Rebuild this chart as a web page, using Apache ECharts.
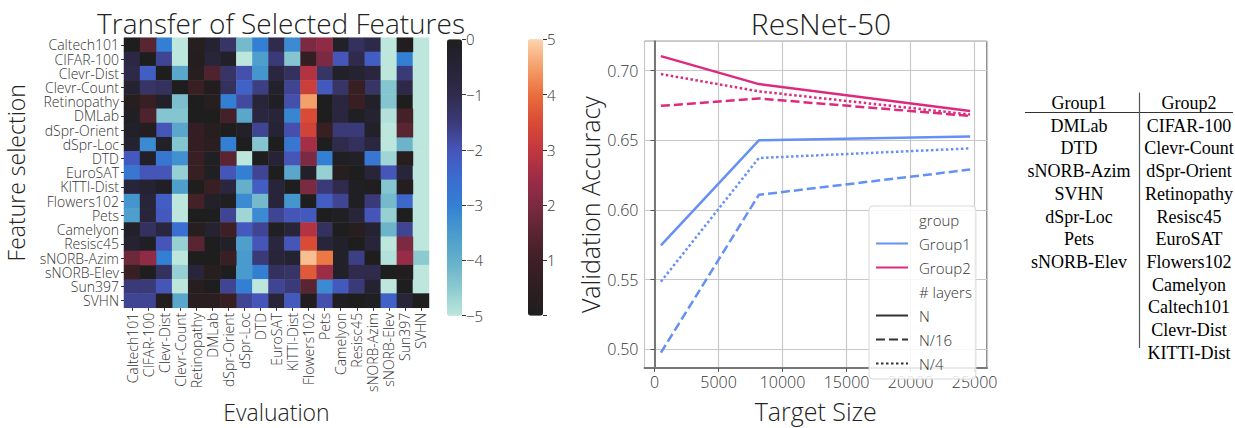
<!DOCTYPE html>
<html><head><meta charset="utf-8">
<script src="https://cdn.jsdelivr.net/npm/echarts@6/dist/echarts.min.js"></script>
<style>html,body{margin:0;padding:0;background:#fff}#c{width:1235px;height:428px}</style>
</head><body><div id="c"></div>
<script>
// ---------------- DATA ----------------
const datasets = ['Caltech101','CIFAR-100','Clevr-Dist','Clevr-Count','Retinopathy','DMLab','dSpr-Orient','dSpr-Loc','DTD','EuroSAT','KITTI-Dist','Flowers102','Pets','Camelyon','Resisc45','sNORB-Azim','sNORB-Elev','Sun397','SVHN'];
const rowCaltech101  = [0, 1.5, -3, -5, 0.3, -0.4, -1.3, -4.2, -3, -1, -3.2, 2, 2.3, -0.2, -1.2, -0.9, -5, 0.1, -5];
const rowCIFAR100    = [-0.8, 0, -1.7, -5, 0.2, -0.6, -0.2, -5, -3.6, -1.5, -4.4, 0.7, 2, -2, -1, -2.2, -5, -3, -5];
const rowClevrDist   = [-0.9, -2.2, 0, -3.8, 0.3, 1.3, -1.3, -1.9, -3.4, -0.7, -1.2, 2.8, -1.3, -0.2, -0.4, -0.7, -5, -1.5, -5];
const rowClevrCount  = [-0.4, -1.3, -1.2, 0, 0.8, 0.1, -1.2, -2.3, -1.6, -0.3, -1.7, 3.2, -2.1, -1.3, 0.8, -1.3, -4.4, -0.9, -5];
const rowRetinopathy = [0.3, 0.8, -0.2, -4.3, 0, 0.3, -3, -1.8, -0.6, -0.1, -1.9, 4.5, 0, -0.7, 0.8, -0.2, -4.4, 0, -5];
const rowDMLab       = [-0.1, 1.3, -4.4, -4.4, 0, 0, 1.1, -3.8, -0.7, -0.6, -3.1, 3.5, 0, -0.7, -0.1, -0.4, -4.9, 1.1, -5];
const rowDSprOrient  = [-0.2, 0.2, -2, -3.8, 0.7, 0.3, 0, -0.2, -1.7, -0.5, -1.9, 3.3, 0.8, -1.5, -1.5, -0.2, -5, 1.5, -5];
const rowDSprLoc     = [-0.4, -3.2, -0.2, -4.4, 0.7, 0.4, -3, 0, -4.4, 0, -2.8, 2.6, 0, -1, -1.2, -0.7, -5, -4.1, -5];
const rowDTD         = [-2.1, -0.2, -2.8, -3.3, 0.8, -0.1, 1.5, -5, 0, -0.5, -2, 2, -3, -0.1, -0.2, -2.8, -4.7, 0.3, -5];
const rowEuroSAT     = [-2.8, -2, -2, -4.6, 0.8, -0.1, -2, -3, -1.7, 0, -3.8, -0.2, -4.6, 0.3, 0, -0.6, -2, -0.6, -5];
const rowKITTIDist   = [-0.6, -0.4, -0.1, -3.6, 0, 0.8, -0.7, -4, -2.2, -0.6, 0, 2, -1.5, -1, -0.1, 0.1, -4.4, 0.2, -5];
const rowFlowers102  = [-3.4, -0.6, -2.2, -5, 1.1, -0.2, -0.05, -3.2, -4.2, -0.6, -3.4, 0, -2.2, -1.7, -0.1, -1.5, -4.2, -2.4, -5];
const rowPets        = [-3.6, -0.6, -2.1, -5, 0, 0, -1.7, -4.7, -3.2, -1.7, -2, -2.1, 0, -0.1, -0.6, -2, -4.6, 0, -5];
const rowCamelyon    = [-0.2, -1.2, -0.7, -2.6, 0.3, -0.4, 1, -2.1, -1.7, -0.1, -0.6, 2.8, -1.2, 0, 0.3, -0.4, -4.1, -1.7, -5];
const rowResisc45    = [-0.4, -0.1, -2, -4.6, 1.5, 0, -0.2, -3.6, -2, -0.7, -2, 3.5, -0.6, -0.2, 0, -0.6, -5, 2, -5];
const rowSNORBAzim   = [1.8, 2.3, -3, -5, 0, 0, 0.8, -3.5, -1.5, -0.6, -0.4, 4.8, 4.1, -0.2, -1.6, 0, -4.9, 2.4, -4.5];
const rowSNORBElev   = [0.8, 0, -1.2, -4.6, -0.6, 0.3, 0, -3.5, -3, -1.2, -1.3, 3.7, 2.5, -0.2, -1, -1, 0, 0.1, -5];
const rowSun397      = [-1.5, -1.5, -2, -5, 0.3, 0, -1.7, -3, -5, -1.7, -1.5, 1.5, -3.2, -2.1, -1.5, -0.4, -5, 0, -5];
const rowSVHN        = [-1.7, -1.7, 0.2, -3.8, 0.4, 0.4, 0.8, -1.7, -2, -0.6, -2.1, 0.1, -1.9, -0.1, 0, -0.05, -2.3, -0.6, 0];
const heatRows = [rowCaltech101,rowCIFAR100,rowClevrDist,rowClevrCount,rowRetinopathy,rowDMLab,rowDSprOrient,rowDSprLoc,rowDTD,rowEuroSAT,rowKITTIDist,rowFlowers102,rowPets,rowCamelyon,rowResisc45,rowSNORBAzim,rowSNORBElev,rowSun397,rowSVHN];

const negColors = ['#bde6dc','#8ccad0','#65afca','#4a9bcd','#337fd3','#3c6bd0','#4655b8','#3b3a78','#302b4c','#262336','#1f1e1f'];
const posColors = ['#1f1e1f','#2d1e21','#3e1f26','#5a2533','#7b2a41','#9d2c47','#c2373f','#d94b35','#ea6e3d','#f4a06b','#fdd3ad'];

const targetSizes = [500, 8150, 24650];
const g1_N   = [0.5747, 0.6500, 0.6528];
const g1_N16 = [0.4977, 0.6109, 0.6290];
const g1_N4  = [0.5486, 0.6373, 0.6442];
const g2_N   = [0.7104, 0.6903, 0.6710];
const g2_N16 = [0.6747, 0.6800, 0.6675];
const g2_N4  = [0.6975, 0.6851, 0.6685];

const group1List = ['DMLab','DTD','sNORB-Azim','SVHN','dSpr-Loc','Pets','sNORB-Elev'];
const group2List = ['CIFAR-100','Clevr-Count','dSpr-Orient','Retinopathy','Resisc45','EuroSAT','Flowers102','Camelyon','Caltech101','Clevr-Dist','KITTI-Dist'];

// ---------------- BUILD ----------------
const FONT = '"Open Sans", "DejaVu Sans", sans-serif';
const negData = [], posData = [];
heatRows.forEach((row, r) => row.forEach((v, c) => {
  if (v > 0) posData.push([c, r, v]); else negData.push([c, r, v]);
}));
const pair = ys => targetSizes.map((x, i) => [x, ys[i]]);
const BLUE = '#6590f5', PINK = '#dc2a7f';
const LW = 2.5;
function lineSeries(name, ys, color, type) {
  return { type: 'line', name, xAxisIndex: 3, yAxisIndex: 3, data: ys ? pair(ys) : [],
    symbol: 'none', color, lineStyle: { color, width: LW, type }, silent: true, animation: false };
}
const DASH = [9, 4], DOT = [2.5, 2.5];

const graphics = [];
const tblX1 = 1079, tblX2 = 1189, tblHeadY = 103, tblRow0 = 125.7, tblDy = 22.7;
const tFont = '18px "Liberation Serif", "Times New Roman", serif';
graphics.push({ type: 'text', style: { text: 'Group1', x: tblX1, y: tblHeadY, align: 'center', verticalAlign: 'middle', font: tFont, fill: '#000' } });
graphics.push({ type: 'text', style: { text: 'Group2', x: tblX2, y: tblHeadY, align: 'center', verticalAlign: 'middle', font: tFont, fill: '#000' } });
group1List.forEach((t, i) => graphics.push({ type: 'text', style: { text: t, x: tblX1, y: tblRow0 + i * tblDy, align: 'center', verticalAlign: 'middle', font: tFont, fill: '#000' } }));
group2List.forEach((t, i) => graphics.push({ type: 'text', style: { text: t, x: tblX2, y: tblRow0 + i * tblDy, align: 'center', verticalAlign: 'middle', font: tFont, fill: '#000' } }));
graphics.push({ type: 'line', shape: { x1: 1025, y1: 112.5, x2: 1233, y2: 112.5 }, style: { stroke: '#333', lineWidth: 1.2 } });
graphics.push({ type: 'line', shape: { x1: 1139.5, y1: 92.5, x2: 1139.5, y2: 348 }, style: { stroke: '#555', lineWidth: 1.2 } });

const axLabel = { fontFamily: FONT, fontWeight: 300, color: '#333' };

const option = {
  backgroundColor: '#fff',
  animation: false,
  textStyle: { fontFamily: FONT },
  title: [
    { text: 'Transfer of Selected Features', left: 276, top: 4, textAlign: 'center',
      textStyle: { fontFamily: FONT, fontWeight: 300, fontSize: 28, color: '#222' } },
    { text: 'ResNet-50', left: 816, top: 3, textAlign: 'center',
      textStyle: { fontFamily: FONT, fontWeight: 300, fontSize: 30, color: '#222' } }
  ],
  grid: [
    { left: 124, top: 37.7, width: 305, height: 278.3 },
    { left: 447, top: 39.3, width: 15, height: 276.4 },
    { left: 528, top: 39.3, width: 15, height: 276.4 },
    { left: 644.5, top: 41.3, width: 342.5, height: 338.7, show: true, borderColor: '#111', borderWidth: 1, backgroundColor: 'transparent' }
  ],
  xAxis: [
    { gridIndex: 0, type: 'category', data: datasets,
      axisLine: { show: false }, axisTick: { show: true, alignWithLabel: true, length: 3, lineStyle: { color: '#333' } },
      axisLabel: Object.assign({ interval: 0, rotate: 90, fontSize: 14, lineHeight: 13, margin: 5 }, axLabel),
      name: 'Evaluation', nameLocation: 'middle', nameGap: 88,
      nameTextStyle: { fontFamily: FONT, fontWeight: 300, fontSize: 23, color: '#222' } },
    { gridIndex: 1, type: 'category', data: [''], show: false },
    { gridIndex: 2, type: 'category', data: [''], show: false },
    { gridIndex: 3, type: 'value', min: -781, max: 25969,
      axisLine: { show: true, lineStyle: { color: '#777', width: 2 } },
      axisTick: { show: true, length: 4, lineStyle: { color: '#555' } },
      splitLine: { show: true, lineStyle: { color: '#c8c8c8', width: 1.2 } },
      axisLabel: Object.assign({ fontSize: 16, margin: 6, showMinLabel: false, showMaxLabel: false, formatter: v => String(v) }, axLabel),
      name: 'Target Size', nameLocation: 'middle', nameGap: 30,
      nameTextStyle: { fontFamily: FONT, fontWeight: 300, fontSize: 25, color: '#222' } }
  ],
  yAxis: [
    { gridIndex: 0, type: 'category', data: datasets, inverse: true,
      axisLine: { show: false }, axisTick: { show: true, alignWithLabel: true, length: 3, lineStyle: { color: '#333' } },
      axisLabel: Object.assign({ interval: 0, fontSize: 14, lineHeight: 13, margin: 5 }, axLabel),
      name: 'Feature selection', nameLocation: 'middle', nameGap: 97, nameRotate: 90,
      nameTextStyle: { fontFamily: FONT, fontWeight: 300, fontSize: 23, color: '#222' } },
    { gridIndex: 1, type: 'value', min: -5, max: 0, interval: 1, position: 'right',
      axisLine: { show: false }, splitLine: { show: false },
      axisTick: { show: true, length: 4, lineStyle: { color: '#333' } },
      axisLabel: Object.assign({ fontSize: 15, margin: 4, formatter: v => String(v).replace('-', '\u2212') }, axLabel) },
    { gridIndex: 2, type: 'value', min: 0, max: 5, interval: 1, position: 'right',
      axisLine: { show: false }, splitLine: { show: false },
      axisTick: { show: true, length: 4, lineStyle: { color: '#333' } },
      axisLabel: Object.assign({ fontSize: 15, margin: 4, formatter: v => v === 0 ? '' : String(v) }, axLabel) },
    { gridIndex: 3, type: 'value', min: 0.4867, max: 0.721,
      axisLine: { show: true, lineStyle: { color: '#777', width: 2 } },
      axisTick: { show: true, length: 4, lineStyle: { color: '#555' } },
      splitLine: { show: true, lineStyle: { color: '#c8c8c8', width: 1.2 } },
      axisLabel: Object.assign({ fontSize: 16, margin: 6, showMinLabel: false, showMaxLabel: false, formatter: v => v.toFixed(2) }, axLabel),
      name: 'Validation Accuracy', nameLocation: 'middle', nameGap: 42, nameRotate: 90,
      nameTextStyle: { fontFamily: FONT, fontWeight: 300, fontSize: 25, color: '#222' } }
  ],
  visualMap: [
    { type: 'continuous', seriesIndex: 0, min: -5, max: 0, inRange: { color: negColors },
      left: 447, top: 39.3, itemWidth: 15, itemHeight: 276.4, padding: 0, calculable: false,
      orient: 'vertical', text: null, hoverLink: false },
    { type: 'continuous', seriesIndex: 1, min: 0, max: 5, inRange: { color: posColors },
      left: 528, top: 39.3, itemWidth: 15, itemHeight: 276.4, padding: 0, calculable: false,
      orient: 'vertical', text: null, hoverLink: false }
  ],
  legend: {
    orient: 'vertical', left: 869, top: 206, selectedMode: false,
    itemWidth: 32, itemHeight: 14, itemGap: 9,
    padding: [6, 4, 8, 6],
    itemStyle: { opacity: 0 },
    borderColor: '#d9d9d9', borderWidth: 1, borderRadius: 4, backgroundColor: 'rgba(255,255,255,0.85)',
    textStyle: { fontFamily: FONT, fontWeight: 300, fontSize: 15, color: '#333', lineHeight: 14, padding: [0, 0, 0, 6] },
    data: ['group', 'Group1', 'Group2', '# layers', 'N', 'N/16', 'N/4']
  },
  graphic: graphics,
  series: [
    { type: 'heatmap', xAxisIndex: 0, yAxisIndex: 0, data: negData, silent: true,
      itemStyle: { borderWidth: 0 }, emphasis: { disabled: true } },
    { type: 'heatmap', xAxisIndex: 0, yAxisIndex: 0, data: posData, silent: true,
      itemStyle: { borderWidth: 0 }, emphasis: { disabled: true } },
    { type: 'line', xAxisIndex: 1, yAxisIndex: 1, data: [], silent: true, name: '_cb1' },
    { type: 'line', xAxisIndex: 2, yAxisIndex: 2, data: [], silent: true, name: '_cb2' },
    lineSeries('group', null, 'rgba(0,0,0,0)', 'solid'),
    lineSeries('Group1', g1_N, BLUE, 'solid'),
    lineSeries('Group1', g1_N16, BLUE, DASH),
    lineSeries('Group1', g1_N4, BLUE, DOT),
    lineSeries('Group2', g2_N, PINK, 'solid'),
    lineSeries('Group2', g2_N16, PINK, DASH),
    lineSeries('Group2', g2_N4, PINK, DOT),
    lineSeries('# layers', null, 'rgba(0,0,0,0)', 'solid'),
    lineSeries('N', null, '#333', 'solid'),
    lineSeries('N/16', null, '#333', DASH),
    lineSeries('N/4', null, '#333', DOT)
  ]
};
const chart = echarts.init(document.getElementById('c'), null, { renderer: 'svg', width: 1235, height: 428 });
chart.setOption(option);
</script></body></html>
